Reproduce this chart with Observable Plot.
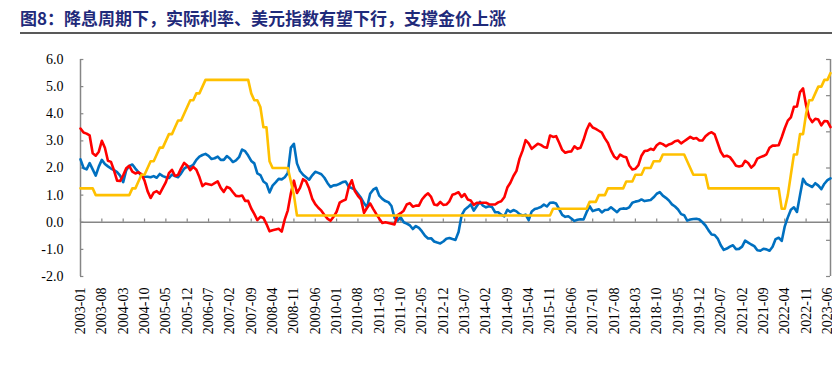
<!DOCTYPE html>
<html><head><meta charset="utf-8">
<script src="https://cdn.jsdelivr.net/npm/d3@7"></script>
<script src="https://cdn.jsdelivr.net/npm/@observablehq/plot@0.6"></script>
<style>
body{margin:0;background:#fff;width:832px;height:378px;overflow:hidden}
#title{margin-left:20px;height:28px;padding-top:4px;line-height:28px;border-bottom:2px solid #595959;font-family:"Noto Sans CJK SC";font-weight:bold;font-size:17px;color:#1f2a7a;white-space:nowrap}
</style></head><body>
<div id="title">图8：降息周期下，实际利率、美元指数有望下行，支撑金价上涨</div>
<div id="chart"></div>
<script>
// monthly, 2003-01 .. 2023-07
const realRate = [
2.32,2.00,1.95,2.18,1.95,1.72,2.05,2.30,2.15,2.06,1.98,1.92,
1.85,1.72,1.48,1.92,2.08,2.13,1.98,1.85,1.72,1.68,1.68,1.66,
1.70,1.64,1.78,1.70,1.66,1.63,1.76,1.70,1.66,1.80,1.98,2.05,
2.05,2.12,2.30,2.42,2.48,2.52,2.45,2.33,2.36,2.42,2.30,2.30,
2.44,2.35,2.22,2.28,2.40,2.68,2.62,2.46,2.26,2.17,1.80,1.74,
1.50,1.42,1.10,1.35,1.47,1.60,1.58,1.66,1.82,2.75,2.89,2.17,
1.89,1.75,1.66,1.57,1.73,1.86,1.82,1.77,1.64,1.45,1.30,1.36,
1.37,1.42,1.48,1.50,1.31,1.26,1.20,1.05,0.90,0.70,0.55,1.05,
1.20,1.27,0.98,0.86,0.78,0.74,0.60,0.16,0.06,0.19,0.00,-0.05,
-0.11,-0.25,-0.14,-0.21,-0.34,-0.50,-0.60,-0.59,-0.71,-0.75,-0.78,-0.71,
-0.61,-0.58,-0.62,-0.65,-0.36,0.25,0.46,0.55,0.66,0.43,0.60,0.75,
0.61,0.55,0.59,0.56,0.37,0.37,0.28,0.22,0.46,0.38,0.45,0.40,
0.30,0.25,0.28,0.08,0.40,0.49,0.52,0.56,0.65,0.58,0.72,0.73,
0.69,0.48,0.27,0.20,0.22,0.14,0.05,0.09,0.11,0.10,0.37,0.59,
0.41,0.45,0.48,0.36,0.45,0.46,0.55,0.46,0.37,0.49,0.51,0.50,
0.55,0.72,0.76,0.78,0.84,0.78,0.80,0.82,0.92,1.05,1.11,0.98,
0.90,0.80,0.66,0.58,0.47,0.30,0.26,0.06,0.10,0.12,0.13,0.10,
0.00,-0.12,-0.30,-0.45,-0.47,-0.60,-0.85,-1.02,-0.97,-0.90,-0.85,-0.99,
-0.98,-0.90,-0.68,-0.75,-0.82,-0.88,-1.03,-1.05,-0.98,-1.00,-1.05,-0.90,
-0.62,-0.57,-0.69,-0.15,0.18,0.46,0.55,0.38,1.00,1.60,1.42,1.36,
1.30,1.44,1.35,1.22,1.42,1.55,1.62];
const dollarIndex = [
100.9,99.8,99.5,99.0,94.1,93.4,94.5,97.5,95.6,92.0,91.7,89.3,
86.5,86.4,88.0,89.9,90.6,89.0,88.5,88.8,88.3,86.5,83.6,81.7,
83.2,83.6,82.9,84.5,86.1,88.6,89.5,87.8,88.1,89.9,91.4,90.7,
89.4,90.3,89.5,87.5,85.0,85.7,85.5,85.3,85.8,86.3,84.5,83.4,
84.8,84.4,83.3,82.3,82.2,82.4,80.9,80.9,78.8,77.3,75.6,76.5,
76.2,74.5,72.5,72.8,73.0,73.2,72.4,75.8,78.3,83.0,86.5,83.1,
84.5,86.9,86.3,84.3,81.5,80.0,79.0,78.2,77.0,76.0,75.4,76.5,
77.9,80.4,80.9,81.3,84.8,86.6,83.6,82.3,81.3,77.6,79.0,80.2,
78.7,77.3,76.0,74.8,75.0,74.8,74.6,74.4,77.0,77.5,78.2,79.9,
80.3,79.3,79.6,79.6,81.3,82.3,83.0,82.0,79.9,79.7,80.6,79.8,
79.9,80.8,82.6,82.9,83.3,82.0,82.8,81.3,81.0,79.8,80.4,80.3,
80.4,80.4,80.0,79.9,79.9,80.5,80.8,81.9,84.6,85.9,87.8,89.2,
92.6,94.8,97.7,96.8,95.3,96.0,96.7,96.4,95.8,95.6,99.0,98.6,
98.8,97.0,95.0,94.2,94.5,94.6,96.0,95.3,95.6,97.8,100.5,102.3,
101.2,100.8,100.3,99.8,98.2,96.9,94.8,93.2,92.5,93.7,93.2,93.0,
90.7,89.6,89.8,90.8,93.4,94.7,94.8,95.3,95.0,96.3,96.9,96.6,
96.0,96.5,96.8,97.4,97.6,96.8,97.4,98.0,98.6,98.1,98.3,97.6,
97.6,98.8,99.5,99.9,99.3,96.9,94.5,93.2,93.4,93.0,91.9,90.6,
90.4,90.6,92.0,91.4,90.1,90.9,92.6,93.0,93.3,93.8,95.6,96.2,
96.2,96.3,98.5,101.0,103.1,104.0,106.9,107.0,111.0,112.0,107.3,104.0,
102.7,103.6,103.4,101.8,103.0,102.9,101.3];
const fedFunds = [
1.25,1.25,1.25,1.25,1.25,1.00,1.00,1.00,1.00,1.00,1.00,1.00,
1.00,1.00,1.00,1.00,1.00,1.25,1.25,1.50,1.75,1.75,2.00,2.25,
2.25,2.50,2.75,2.75,3.00,3.25,3.25,3.50,3.75,3.75,4.00,4.25,
4.50,4.50,4.75,4.75,5.00,5.25,5.25,5.25,5.25,5.25,5.25,5.25,
5.25,5.25,5.25,5.25,5.25,5.25,5.25,5.25,4.75,4.50,4.50,4.25,
3.50,3.50,2.25,2.00,2.00,2.00,2.00,2.00,2.00,1.50,1.00,0.25,
0.25,0.25,0.25,0.25,0.25,0.25,0.25,0.25,0.25,0.25,0.25,0.25,
0.25,0.25,0.25,0.25,0.25,0.25,0.25,0.25,0.25,0.25,0.25,0.25,
0.25,0.25,0.25,0.25,0.25,0.25,0.25,0.25,0.25,0.25,0.25,0.25,
0.25,0.25,0.25,0.25,0.25,0.25,0.25,0.25,0.25,0.25,0.25,0.25,
0.25,0.25,0.25,0.25,0.25,0.25,0.25,0.25,0.25,0.25,0.25,0.25,
0.25,0.25,0.25,0.25,0.25,0.25,0.25,0.25,0.25,0.25,0.25,0.25,
0.25,0.25,0.25,0.25,0.25,0.25,0.25,0.25,0.25,0.25,0.25,0.50,
0.50,0.50,0.50,0.50,0.50,0.50,0.50,0.50,0.50,0.50,0.50,0.75,
0.75,0.75,1.00,1.00,1.00,1.25,1.25,1.25,1.25,1.25,1.25,1.50,
1.50,1.50,1.75,1.75,1.75,2.00,2.00,2.00,2.25,2.25,2.25,2.50,
2.50,2.50,2.50,2.50,2.50,2.50,2.50,2.25,2.00,1.75,1.75,1.75,
1.75,1.75,1.25,1.25,1.25,1.25,1.25,1.25,1.25,1.25,1.25,1.25,
1.25,1.25,1.25,1.25,1.25,1.25,1.25,1.25,1.25,1.25,1.25,1.25,
1.25,1.25,0.50,0.50,1.00,1.75,2.50,2.50,3.25,3.25,4.00,4.50,
4.50,4.75,5.00,5.00,5.25,5.25,5.50];
const xTickLabels = ["2003-01","2003-08","2004-03","2004-10","2005-05","2005-12","2006-07","2007-02","2007-09","2008-04","2008-11","2009-06","2010-01","2010-08","2011-03","2011-10","2012-05","2012-12","2013-07","2014-02","2014-09","2015-04","2015-11","2016-06","2017-01","2017-08","2018-03","2018-10","2019-05","2019-12","2020-07","2021-02","2021-09","2022-04","2022-11","2023-06"];
const leftTicks = [-2,-1,0,1,2,3,4,5,6];
const rightTicks = [60,70,80,90,100,110,120];

const toLeft = d => (d - 60) / 7.5 - 2;
const n = realRate.length;
const N = n - 1;
const rows = d3.range(n).map(i => ({i, real: realRate[i], dxy: dollarIndex[i], fed: fedFunds[i]}));
const tickIdx = xTickLabels.map((_, k) => k * 7);
const gray = "#868686";

const chart = Plot.plot({
  width: 832, height: 344,
  marginLeft: 80, marginRight: 2, marginTop: 25, marginBottom: 102,
  x: {domain: [0, N]},
  y: {domain: [-2, 6]},
  style: {fontFamily: "Liberation Serif", fontSize: "14px", color: "#000", background: "#fff"},
  marks: [
    Plot.ruleY([0], {stroke: gray, strokeWidth: 1.5}),
    Plot.ruleX(tickIdx, {x: d => d, y1: 0, y2: 0.12, stroke: gray, strokeWidth: 1.2}),
    Plot.ruleX([0], {stroke: gray, strokeWidth: 1.5}),
    Plot.ruleX([N], {stroke: gray, strokeWidth: 1.5}),
    Plot.ruleY(leftTicks, {y: d => d, x1: 0, x2: 1.1, stroke: gray, strokeWidth: 1.2}),
    Plot.ruleY(rightTicks, {y: toLeft, x1: N - 1.3, x2: N, stroke: gray, strokeWidth: 1.2}),
    Plot.axisY({ticks: leftTicks, tickFormat: d => d.toFixed(1), tickSize: 0, tickPadding: 17, label: null}),
    Plot.axisX({ticks: tickIdx, tickFormat: k => xTickLabels[Math.round(k / 7)], tickRotate: -90, tickSize: 0, tickPadding: 11, label: null}),
    Plot.line(rows, {x: "i", y: "real", stroke: "#0070C0", strokeWidth: 2.6}),
    Plot.line(rows, {x: "i", y: d => toLeft(d.dxy), stroke: "#FF0000", strokeWidth: 2.6}),
    Plot.line(rows, {x: "i", y: "fed", stroke: "#FFC000", strokeWidth: 2.6})
  ]
});
document.getElementById("chart").append(chart);
</script>
</body></html>
